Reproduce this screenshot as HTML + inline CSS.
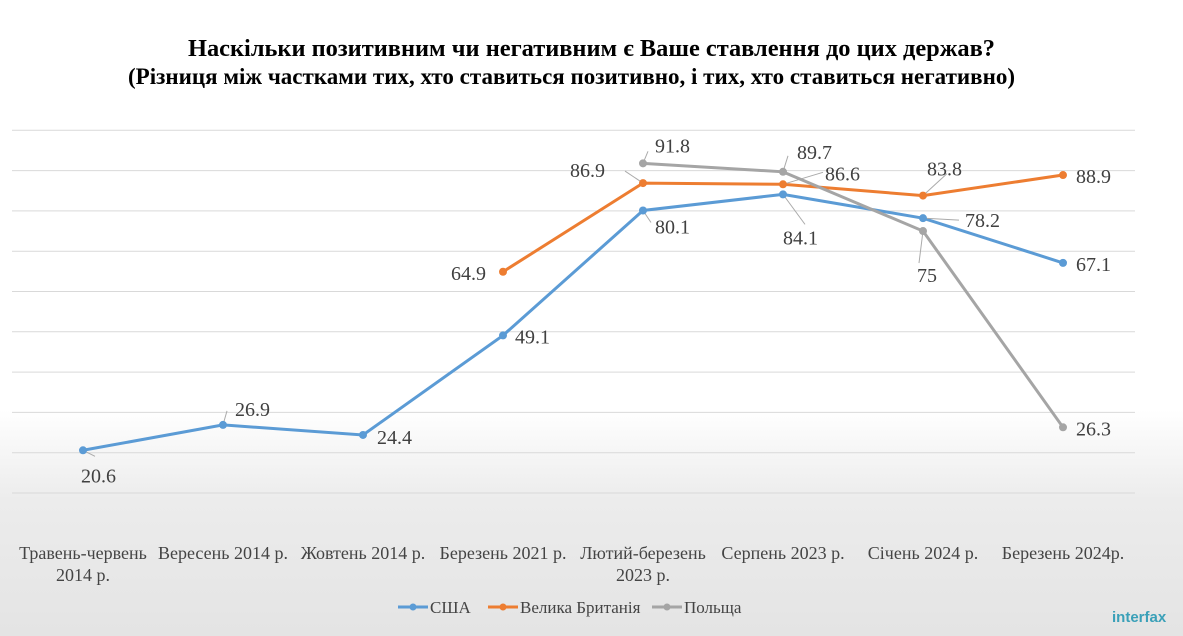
<!DOCTYPE html>
<html><head><meta charset="utf-8"><style>
body{margin:0;width:1183px;height:636px;overflow:hidden;font-family:"Liberation Serif",serif;background:linear-gradient(#fff 0,#fff 410px,#ececec 500px,#e4e4e4 636px);}
svg{position:absolute;left:0;top:0}
</style></head><body>
<svg width="1183" height="636">
<text x="188" y="56" textLength="807" lengthAdjust="spacingAndGlyphs" font-family="Liberation Serif" font-weight="bold" font-size="24.4" fill="#000">Наскільки позитивним чи негативним є Ваше ставлення до цих держав?</text>
<text x="128" y="84" textLength="887" lengthAdjust="spacingAndGlyphs" font-family="Liberation Serif" font-weight="bold" font-size="23.5" fill="#000">(Різниця між частками тих, хто ставиться позитивно, і тих, хто ставиться негативно)</text>
<g id="grid"></g><g id="series"></g><g id="xlabels"></g>
<g>
<g><line x1="398" y1="607" x2="428" y2="607" stroke="#5b9bd5" stroke-width="3"/><circle cx="413" cy="607" r="3.5" fill="#5b9bd5"/><text x="430" y="613" font-size="17" fill="#444">США</text></g>
<g><line x1="488" y1="607" x2="518" y2="607" stroke="#ed7d31" stroke-width="3"/><circle cx="503" cy="607" r="3.5" fill="#ed7d31"/><text x="520" y="613" font-size="17" fill="#444">Велика Британія</text></g>
<g><line x1="652" y1="607" x2="682" y2="607" stroke="#a5a5a5" stroke-width="3"/><circle cx="667" cy="607" r="3.5" fill="#a5a5a5"/><text x="684" y="613" font-size="17" fill="#444">Польща</text></g>
</g>
<text x="1112" y="622" font-family="Liberation Sans" font-weight="bold" font-size="15" fill="#3aa0b8">interfax</text>
</svg>
<script>
const categories=[["Травень-червень","2014 р."],["Вересень  2014 р."],["Жовтень 2014 р."],["Березень 2021 р."],["Лютий-березень","2023 р."],["Серпень 2023 р."],["Січень 2024 р."],["Березень 2024р."]];
const usa=[20.6,26.9,24.4,49.1,80.1,84.1,78.2,67.1];
const uk=[null,null,null,64.9,86.9,86.6,83.8,88.9];
const poland=[null,null,null,null,91.8,89.7,75,26.3];
const yTicks=[10,20,30,40,50,60,70,80,90,100];
const NS="http://www.w3.org/2000/svg";
const X=i=>83+i*140.0, Y=v=>493-(v-10)*4.03;
function el(t,a,p){const e=document.createElementNS(NS,t);for(const k in a)e.setAttribute(k,a[k]);p.appendChild(e);return e;}
const g=document.getElementById('grid');
yTicks.forEach(v=>{const l=el('line',{x1:12,x2:1135,y1:Y(v),y2:Y(v),stroke:'#d9d9d9','stroke-width':1},g);

});
const xl=document.getElementById('xlabels');
categories.forEach((c,i)=>{c.forEach((s,j)=>{const t=el('text',{x:X(i),y:559+j*22,'text-anchor':'middle','font-size':18,fill:'#444'},xl);t.textContent=s;

});});
// label offsets [dx,dy,anchor, leader end dx, dy]
const offs={
usa:[[-2,32,'start',[12,6]],[12,-9,'start',[4,-14]],[14,9,'start',null],[12,8,'start',null],[12,23,'start',[8,12]],[0,50,'start',[22,30]],[42,9,'start',[36,2]],[13,8,'start',null]],
uk:[[0,0],[0,0],[0,0],[-52,8,'start',null],[-73,-6,'start',[-18,-12]],[42,-4,'start',[40,-12]],[4,-20,'start',[24,-22]],[13,8,'start',null]],
pl:[[0,0],[0,0],[0,0],[0,0],[12,-11,'start',[5,-12]],[14,-13,'start',[5,-16]],[-6,51,'start',[-4,32]],[13,8,'start',null]]};
const sg=document.getElementById('series');
function draw(data,color,name,of){
 const pts=data.map((v,i)=>v==null?null:[X(i),Y(v)]).filter(p=>p);
 const pl=el('polyline',{points:pts.map(p=>p.join(',')).join(' '),fill:'none',stroke:color,'stroke-width':3},sg);
 
 
 data.forEach((v,i)=>{if(v==null)return;const x=X(i),y=Y(v);
  const o=of[i];
  if(o[3]){el('line',{x1:x,y1:y,x2:x+o[3][0],y2:y+o[3][1],stroke:'#aaa','stroke-width':1},sg);}
  const c=el('circle',{cx:x,cy:y,r:4,fill:color},sg);
  
  
  const t=el('text',{x:x+o[0],y:y+o[1],'text-anchor':o[2],'font-size':20,fill:'#404040'},sg);t.textContent=String(v);
  
  });
}
draw(usa,'#5b9bd5','usa',offs.usa);
draw(uk,'#ed7d31','uk',offs.uk);
draw(poland,'#a5a5a5','poland',offs.pl);
</script>
</body></html>
